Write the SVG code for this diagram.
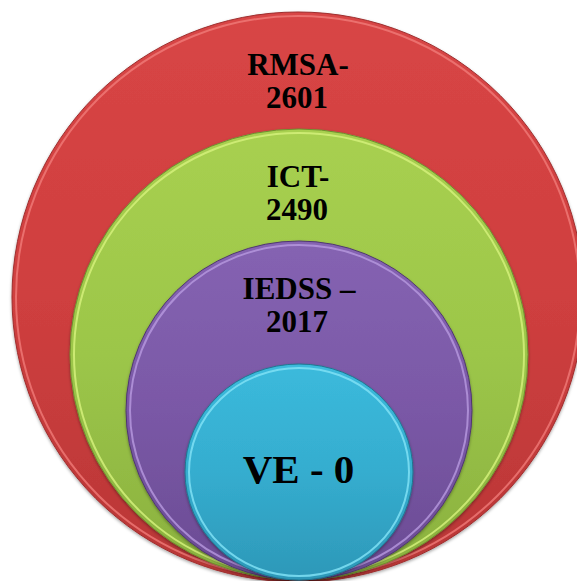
<svg xmlns="http://www.w3.org/2000/svg" width="577" height="581" viewBox="0 0 577 581">
  <defs>
    <linearGradient id="gRed" x1="0" y1="0" x2="0" y2="1">
      <stop offset="0" stop-color="#D84545"/>
      <stop offset="0.5" stop-color="#CF3F3F"/>
      <stop offset="1" stop-color="#B83636"/>
    </linearGradient>
    <linearGradient id="gGreen" x1="0" y1="0" x2="0" y2="1">
      <stop offset="0" stop-color="#A8D050"/>
      <stop offset="0.5" stop-color="#9CC649"/>
      <stop offset="1" stop-color="#8AB03F"/>
    </linearGradient>
    <linearGradient id="gPurple" x1="0" y1="0" x2="0" y2="1">
      <stop offset="0" stop-color="#8563B2"/>
      <stop offset="0.5" stop-color="#7A58A6"/>
      <stop offset="1" stop-color="#6A4B93"/>
    </linearGradient>
    <linearGradient id="gCyan" x1="0" y1="0" x2="0" y2="1">
      <stop offset="0" stop-color="#3BBADC"/>
      <stop offset="0.5" stop-color="#35ADCF"/>
      <stop offset="1" stop-color="#2D98B8"/>
    </linearGradient>
    <filter id="shadow" x="-10%" y="-10%" width="120%" height="120%">
      <feDropShadow dx="0" dy="1.5" stdDeviation="1.5" flood-color="#000" flood-opacity="0.35"/>
    </filter>
  </defs>
  <style>
    text { font-family: "Liberation Serif", "Times New Roman", "DejaVu Serif", serif; font-weight: bold; fill: #000; text-anchor: middle; }
    .ring { fill: none; stroke-width: 2; }
    .edge { stroke-width: 1; }
  </style>
  <rect width="577" height="581" fill="#FFFFFF"/>

  <g id="node-rmsa">
    <ellipse cx="298" cy="297" rx="286" ry="285" fill="url(#gRed)" stroke="#9E2E2E" class="edge" filter="url(#shadow)"/>
    <ellipse cx="298" cy="297" rx="282" ry="281" class="ring" stroke="#F07A78" stroke-opacity="0.8"/>
    <text font-family="Liberation Serif, serif" x="298" y="75" font-size="31">RMSA-</text>
    <text font-family="Liberation Serif, serif" x="297" y="108" font-size="31">2601</text>
  </g>

  <g id="node-ict">
    <ellipse cx="299" cy="354.5" rx="229" ry="225.5" fill="url(#gGreen)" stroke="#6E8F30" class="edge" filter="url(#shadow)"/>
    <ellipse cx="299" cy="354.5" rx="225" ry="221.5" class="ring" stroke="#D4F07A" stroke-opacity="0.85"/>
    <text font-family="Liberation Serif, serif" x="298" y="187" font-size="31">ICT-</text>
    <text font-family="Liberation Serif, serif" x="297" y="220" font-size="31">2490</text>
  </g>

  <g id="node-iedss">
    <ellipse cx="299" cy="410.5" rx="173" ry="169.5" fill="url(#gPurple)" stroke="#4F3672" class="edge" filter="url(#shadow)"/>
    <ellipse cx="299" cy="410.5" rx="169" ry="165.5" class="ring" stroke="#B89AE0" stroke-opacity="0.8"/>
    <text font-family="Liberation Serif, serif" x="299" y="299" font-size="31">IEDSS –</text>
    <text font-family="Liberation Serif, serif" x="297" y="332" font-size="31">2017</text>
  </g>

  <g id="node-ve">
    <ellipse cx="299" cy="472" rx="114" ry="108" fill="url(#gCyan)" stroke="#1F7891" class="edge" filter="url(#shadow)"/>
    <ellipse cx="299" cy="472" rx="110" ry="104" class="ring" stroke="#7FE0F5" stroke-opacity="0.85"/>
    <text font-family="Liberation Serif, serif" x="298.5" y="483" font-size="41">VE - 0</text>
  </g>

  <g id="connectors"></g>
</svg>
